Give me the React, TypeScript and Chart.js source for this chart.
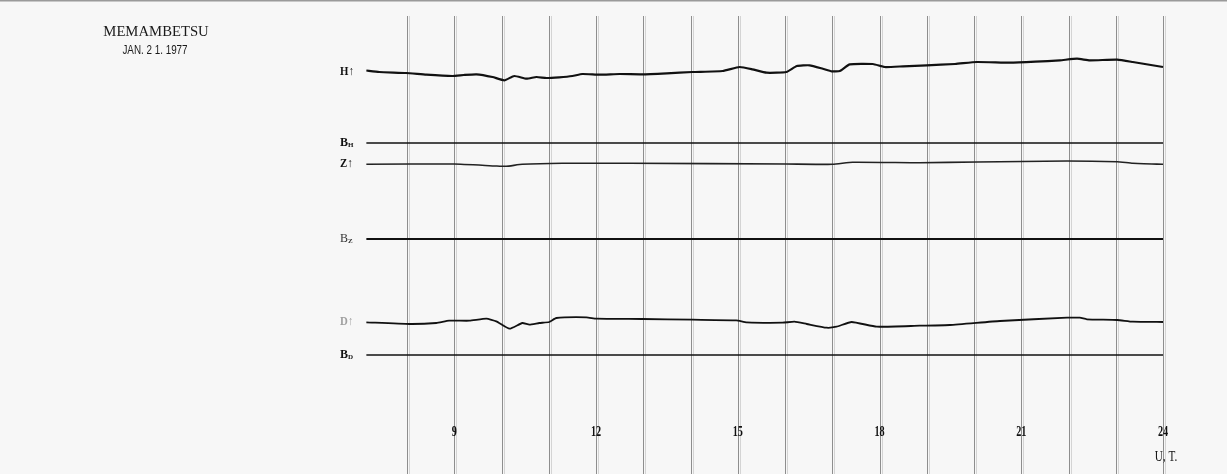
import React, { useEffect, useRef } from "react";
import { Chart, registerables } from "chart.js";

Chart.register(...registerables);

// ---- Data (hours U.T. and trace deflections, upward positive, chart units) ----
const stationName = "MEMAMBETSU";
const dateLabel = "JAN. 2 1. 1977";
const hourGrid = [8, 9, 10, 11, 12, 13, 14, 15, 16, 17, 18, 19, 20, 21, 22, 23, 24];
const hourLabels = [9, 12, 15, 18, 21, 24];
const startHour = 7.14;
const endHour = 24;

const hBase = 72;
const hTimes = [7.14, 7.41, 7.98, 8.41, 8.96, 9.2, 9.47, 9.81, 10.06, 10.27, 10.53, 10.74, 10.95, 11.22, 11.5, 11.71, 12.07, 12.5, 12.98, 13.5, 14.04, 14.68, 15.04, 15.31, 15.61, 16.03, 16.25, 16.52, 16.8, 16.99, 17.16, 17.37, 17.86, 18.11, 18.5, 19.0, 19.6, 20.06, 20.76, 21.3, 21.82, 22.18, 22.45, 23.03, 23.36, 24.0];
const hValues = [1.5, 0, -1, -2.7, -4, -3, -2.3, -5, -8.3, -4, -6.7, -5, -6, -5.3, -4, -2, -2.7, -2, -2.3, -1.3, 0, 1, 5, 2.7, -0.7, 0, 6, 6.7, 3.3, 0.7, 1, 7.7, 8, 5, 5.7, 6.7, 8, 10, 9.3, 10.3, 11.7, 13.3, 11.7, 12.3, 10, 5];

const zBase = 164;
const zTimes = [7.14, 9.0, 9.89, 10.1, 10.44, 11.29, 12.71, 16.03, 17.01, 17.43, 18.85, 20.06, 21.97, 23.03, 23.36, 24.0];
const zValues = [-0.3, 0, -2, -2.3, -0.3, 0.7, 0.7, 0, -0.3, 1.7, 1.3, 2, 3, 2.3, 0.7, -0.3];

const dBase = 322;
const dTimes = [7.14, 8.05, 8.62, 8.89, 9.32, 9.68, 9.89, 10.17, 10.44, 10.59, 10.8, 11.01, 11.16, 11.8, 12.01, 12.98, 14.04, 14.97, 15.19, 15.95, 16.2, 16.46, 16.88, 17.09, 17.41, 17.94, 18.85, 19.49, 20.55, 21.97, 22.24, 22.39, 23.03, 23.36, 24.0];
const dValues = [-0.3, -2, -1, 1.3, 1.3, 3.3, 0.7, -6.7, -1, -2.7, -1, 0, 4, 4.7, 3.3, 3, 2.3, 1.7, -0.3, -0.7, 0.3, -2, -5.7, -4.7, 0, -4.7, -3.7, -3, 1, 4.3, 4.3, 2.7, 2, 0.3, 0];

const baselineNames = ["H", "Z", "D"];
const baselineLevels = [143, 239, 355];

const W = 1227;
const H = 474;
const pxPerHour = 47.25;
const xMin = 8 - 407 / pxPerHour;
const xMax = 8 + (W - 407) / pxPerHour;

function trace(times: number[], vals: number[], base: number) {
  return times.map((t, i) => ({ x: t, y: base - vals[i] }));
}

function drawSquished(ctx: CanvasRenderingContext2D, text: string, x: number, y: number, font: string, sx: number, align: "left" | "center") {
  ctx.save();
  ctx.font = font;
  ctx.textBaseline = "middle";
  ctx.textAlign = "left";
  const w = ctx.measureText(text).width * sx;
  const left = align === "center" ? x - w / 2 : x;
  ctx.translate(left, y);
  ctx.scale(sx, 1);
  ctx.fillText(text, 0, 0);
  ctx.restore();
}

const paperPlugin = {
  id: "paper",
  beforeDraw(chart: any) {
    const ctx = chart.ctx as CanvasRenderingContext2D;
    const xs = chart.scales.x;
    ctx.save();
    ctx.fillStyle = "#f7f7f7";
    ctx.fillRect(0, 0, chart.width, chart.height);
    ctx.strokeStyle = "#9a9a9a";
    ctx.lineWidth = 1.5;
    ctx.beginPath();
    ctx.moveTo(0, 0.75);
    ctx.lineTo(chart.width, 0.75);
    ctx.stroke();
    for (const h of hourGrid) {
      const px = Math.round(xs.getPixelForValue(h)) + 0.5;
      ctx.strokeStyle = "#d4d4d4";
      ctx.lineWidth = 1;
      ctx.beginPath();
      ctx.moveTo(px + 2, 16);
      ctx.lineTo(px + 2, chart.height);
      ctx.stroke();
      ctx.strokeStyle = "#8e8e8e";
      ctx.beginPath();
      ctx.moveTo(px, 16);
      ctx.lineTo(px, chart.height);
      ctx.stroke();
    }
    ctx.restore();
  },
  afterDraw(chart: any) {
    const ctx = chart.ctx as CanvasRenderingContext2D;
    const xs = chart.scales.x;
    const ys = chart.scales.y;
    ctx.save();
    ctx.fillStyle = "#1a1a1a";
    drawSquished(ctx, stationName, 156, 32, "15px 'Liberation Serif'", 0.98, "center");
    drawSquished(ctx, dateLabel, 155, 51, "12px 'Liberation Sans'", 0.82, "center");

    ctx.fillStyle = "#111";
    for (const h of hourLabels) {
      drawSquished(ctx, String(h), xs.getPixelForValue(h), 432, "bold 15px 'Liberation Serif'", 0.68, "center");
    }
    drawSquished(ctx, "U, T.", xs.getPixelForValue(24) + 3, 457, "14px 'Liberation Serif'", 0.8, "center");

    const lx = 340;
    const traceInfo = [
      ["H", hBase, "#111"],
      ["Z", zBase, "#111"],
      ["D", dBase, "#a0a0a0"],
    ] as [string, number, string][];
    for (const [name, base, col] of traceInfo) {
      ctx.fillStyle = col;
      drawSquished(ctx, name + "↑", lx, ys.getPixelForValue(base), "bold 12px 'Liberation Serif'", 0.9, "left");
    }
    baselineNames.forEach((n, i) => {
      const y = ys.getPixelForValue(baselineLevels[i]);
      ctx.fillStyle = n === "Z" ? "#333" : "#111";
      drawSquished(ctx, "B", lx, y, (n === "Z" ? "" : "bold ") + "12px 'Liberation Serif'", 1, "left");
      drawSquished(ctx, n, lx + 8, y + 2, "bold 7px 'Liberation Serif'", 1, "left");
    });
    ctx.restore();
  },
};

export default function App() {
  const ref = useRef<HTMLCanvasElement | null>(null);
  useEffect(() => {
    if (!ref.current) return;
    const baseDatasets = baselineLevels.map((lvl, i) => ({
      label: "B" + baselineNames[i],
      data: [
        { x: startHour, y: lvl },
        { x: endHour, y: lvl },
      ],
      borderColor: "#111",
      borderWidth: i === 1 ? 2.2 : 1.4,
      pointRadius: 0,
    }));
    const chart = new Chart(ref.current, {
      type: "line",
      data: {
        datasets: [
          { label: "H", data: trace(hTimes, hValues, hBase), borderColor: "#111", borderWidth: 2.2, pointRadius: 0, tension: 0.15 },
          { label: "Z", data: trace(zTimes, zValues, zBase), borderColor: "#222", borderWidth: 1.6, pointRadius: 0, tension: 0.15 },
          { label: "D", data: trace(dTimes, dValues, dBase), borderColor: "#111", borderWidth: 1.8, pointRadius: 0, tension: 0.15 },
          ...baseDatasets,
        ],
      },
      options: {
        animation: false,
        responsive: false,
        maintainAspectRatio: false,
        devicePixelRatio: 1,
        layout: { padding: 0 },
        scales: {
          x: { type: "linear", min: xMin, max: xMax, display: false },
          y: { type: "linear", min: 0, max: H, reverse: true, display: false },
        },
        plugins: { legend: { display: false }, tooltip: { enabled: false } },
        events: [],
      },
      plugins: [paperPlugin],
    } as any);
    return () => chart.destroy();
  }, []);
  return (
    <div style={{ position: "absolute", left: 0, top: 0, width: W, height: H, background: "#f7f7f7" }}>
      <canvas ref={ref} width={W} height={H} style={{ display: "block", width: W, height: H }} />
    </div>
  );
}
